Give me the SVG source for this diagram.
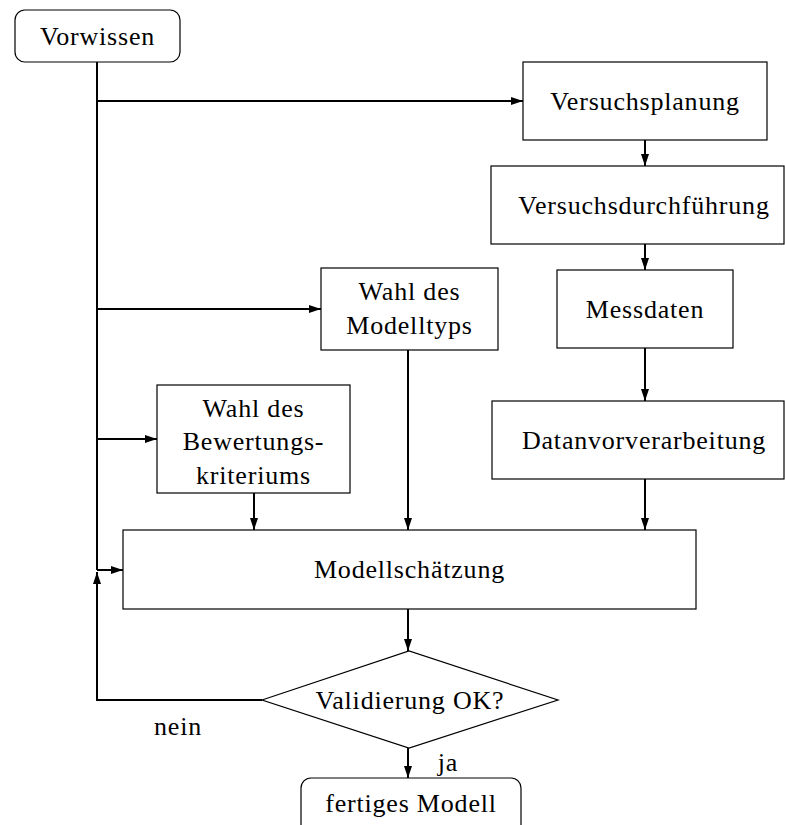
<svg xmlns="http://www.w3.org/2000/svg" width="785" height="825" viewBox="0 0 785 825">
<style>
.box{fill:#fff;stroke:#000;stroke-width:1.2}
.t{font-family:"Liberation Serif","Times New Roman",serif;font-size:26px;letter-spacing:0.8px;fill:#000;text-anchor:middle}
.c{fill:none;stroke:#000;stroke-width:2}
</style>
<defs>
<marker id="a" viewBox="0 0 12 8" refX="12" refY="4" markerWidth="12" markerHeight="8" markerUnits="userSpaceOnUse" orient="auto">
<path d="M0,0 L12,4 L0,8 Z" fill="#000"/>
</marker>
</defs>
<rect width="785" height="825" fill="#fff"/>
<g id="connectors">
<path class="c" d="M97,62 V570"/>
<path class="c" d="M97,101 H523" marker-end="url(#a)"/>
<path class="c" d="M97,309 H321" marker-end="url(#a)"/>
<path class="c" d="M97,439 H157" marker-end="url(#a)"/>
<path class="c" d="M97,570 H123" marker-end="url(#a)"/>
<path class="c" d="M262,700 H97 V572" marker-end="url(#a)"/>
<path class="c" d="M645,140 V166" marker-end="url(#a)"/>
<path class="c" d="M645,244 V270" marker-end="url(#a)"/>
<path class="c" d="M645,348 V401" marker-end="url(#a)"/>
<path class="c" d="M645,479 V530" marker-end="url(#a)"/>
<path class="c" d="M408,350 V530" marker-end="url(#a)"/>
<path class="c" d="M254,493 V530" marker-end="url(#a)"/>
<path class="c" d="M408,609 V651" marker-end="url(#a)"/>
<path class="c" d="M408,748 V778" marker-end="url(#a)"/>
<text class="t" x="178" y="735">nein</text>
<text class="t" x="448" y="771">ja</text>
</g>
<g id="vorwissen"><rect class="box" x="15" y="10" width="165" height="52" rx="10"/><text class="t" x="97.5" y="45">Vorwissen</text></g>
<g id="versuchsplanung"><rect class="box" x="523" y="62" width="244" height="78"/><text class="t" x="645" y="110">Versuchsplanung</text></g>
<g id="versuchsdurchfuehrung"><rect class="box" x="491" y="166" width="293" height="78"/><text class="t" x="644" y="214">Versuchsdurchführung</text></g>
<g id="messdaten"><rect class="box" x="557" y="270" width="176" height="78"/><text class="t" x="645" y="318">Messdaten</text></g>
<g id="datenvorverarbeitung"><rect class="box" x="492" y="401" width="292" height="78"/><text class="t" x="644" y="449">Datanvorverarbeitung</text></g>
<g id="modelltyp"><rect class="box" x="321" y="268" width="177" height="82"/><text class="t" x="409.5" y="300">Wahl des</text><text class="t" x="409.5" y="334">Modelltyps</text></g>
<g id="bewertung"><rect class="box" x="157" y="385" width="193" height="108"/><text class="t" x="253.5" y="417">Wahl des</text><text class="t" x="253.5" y="450">Bewertungs-</text><text class="t" x="253.5" y="484">kriteriums</text></g>
<g id="modellschaetzung"><rect class="box" x="123" y="530" width="573" height="79"/><text class="t" x="409.5" y="578">Modellschätzung</text></g>
<g id="validierung"><polygon class="box" points="262,700 409,651 558,700 409,748"/><text class="t" x="410" y="709">Validierung OK?</text></g>
<g id="fertig"><rect class="box" x="301" y="778" width="220" height="60" rx="10"/><text class="t" x="411" y="812">fertiges Modell</text></g>
</svg>
